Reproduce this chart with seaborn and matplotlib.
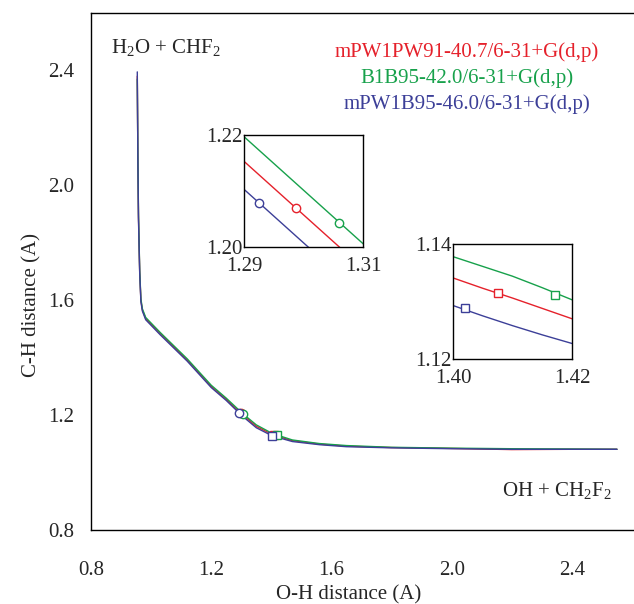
import numpy as np
import pandas as pd
import matplotlib
matplotlib.use('Agg')
import matplotlib.pyplot as plt
from matplotlib.ticker import MultipleLocator, FixedLocator, FormatStrFormatter
import seaborn as sns

sns.set_style('white')
plt.rcParams['font.family'] = ['Liberation Serif', 'DejaVu Serif']
plt.rcParams['mathtext.fontset'] = 'custom'
plt.rcParams['mathtext.rm'] = 'Liberation Serif'
plt.rcParams['mathtext.default'] = 'regular'

# O-H distance grid shared by the three IRC paths
oh_dist = [0.954, 0.956, 0.958, 0.962, 0.966, 0.971, 0.982, 1.03, 1.12, 1.20,
           1.25, 1.29, 1.31, 1.35, 1.40, 1.405, 1.41, 1.415, 1.42, 1.47, 1.56, 1.65,
           1.80, 2.00, 2.20, 2.40, 2.55]

# C-H distance along each path
ch_mpw1pw91 = [2.38, 2.09, 1.89, 1.700, 1.600, 1.566, 1.536, 1.484, 1.392, 1.300,
               1.255, 1.2153, 1.1962, 1.161, 1.1341, 1.1323, 1.1306, 1.1288, 1.1270,
               1.111, 1.099, 1.092, 1.087, 1.084, 1.080, 1.081, 1.081]
ch_b1b95 = [2.37, 2.10, 1.90, 1.705, 1.605, 1.570, 1.540, 1.488, 1.396, 1.304,
            1.259, 1.2197, 1.2006, 1.166, 1.1378, 1.1361, 1.1344, 1.1324, 1.1303,
            1.1135, 1.101, 1.094, 1.088, 1.085, 1.083, 1.082, 1.081]
ch_mpw1b95 = [2.395, 2.08, 1.88, 1.695, 1.595, 1.562, 1.532, 1.480, 1.388, 1.296,
              1.251, 1.2103, 1.1912, 1.156, 1.1293, 1.1275, 1.1258, 1.1242, 1.1227,
              1.108, 1.097, 1.090, 1.086, 1.083, 1.081, 1.081, 1.081]

labels = ['mPW1PW91-40.7/6-31+G(d,p)', 'B1B95-42.0/6-31+G(d,p)', 'mPW1B95-46.0/6-31+G(d,p)']
colors = ['#e5212b', '#17a14b', '#3c3f98']
curves = [ch_mpw1pw91, ch_b1b95, ch_mpw1b95]

# circle markers (saddle point) and square markers
circ_x = [1.2987, 1.306, 1.2925]
circ_y = [1.2069, 1.2042, 1.2079]
sq_x = [1.4075, 1.4172, 1.4021]
sq_y = [1.1315, 1.1311, 1.1289]

fig = plt.figure(figsize=(6.34, 6.04), dpi=100)
ax = fig.add_axes([91 / 634, 1 - 530 / 604, 1 - 91 / 634, (530 - 13) / 604])
ax1 = fig.add_axes([244 / 634, 1 - 247 / 604, 119 / 634, 112 / 604])
ax2 = fig.add_axes([453 / 634, 1 - 359 / 604, 119 / 634, 115 / 604])


def draw(a, lw, ms):
    for yv, c in zip(curves, colors):
        sns.lineplot(x=oh_dist, y=yv, ax=a, color=c, lw=lw, sort=False,
                     estimator=None, zorder=2)
    for i, c in enumerate(colors):
        a.plot(circ_x[i], circ_y[i], 'o', ms=ms, mfc='white', mec=c, mew=1.0, zorder=3)
        a.plot(sq_x[i], sq_y[i], 's', ms=ms, mfc='white', mec=c, mew=1.0, zorder=3)


draw(ax, 1.0, 6)
draw(ax1, 1.0, 6)
draw(ax2, 1.0, 6)

ax.set_xlim(0.8, 0.8 + (634 - 92) / 300)
ax.set_ylim(0.8, 2.6)
ax.xaxis.set_major_locator(FixedLocator([0.8, 1.2, 1.6, 2.0, 2.4]))
ax.xaxis.set_minor_locator(MultipleLocator(0.1))
ax.yaxis.set_major_locator(FixedLocator([0.8, 1.2, 1.6, 2.0, 2.4]))
ax.yaxis.set_minor_locator(MultipleLocator(0.1))
ax.xaxis.set_major_formatter(FormatStrFormatter('%.1f'))
ax.yaxis.set_major_formatter(FormatStrFormatter('%.1f'))
ax.tick_params(axis='both', which='both', direction='in', top=False, right=False,
               labelsize=15, color='black', width=1.0)
ax.tick_params(axis='both', which='major', length=6)
ax.tick_params(axis='both', which='minor', length=4)
ax.tick_params(axis='x', pad=22)
ax.tick_params(axis='y', pad=12)
ax.spines['right'].set_visible(False)
for s in ['left', 'bottom', 'top']:
    ax.spines[s].set_color('black')
    ax.spines[s].set_linewidth(1.0)
ax.set_xlabel('O-H distance (A)', fontsize=15, va='center')
ax.set_ylabel('C-H distance (A)', fontsize=15, va='center')
ax.xaxis.set_label_coords(0.475, -0.126)
ax.yaxis.set_label_coords(-0.109, 0.435)

ax.text(0.867, 2.48, 'H$_2$O + CHF$_2$', fontsize=15, ha='left', va='center')
ax.text(2.533, 0.939, 'OH + CH$_2$F$_2$', fontsize=15, ha='right', va='center')
for lab, c, yy in zip(labels, colors, [2.463, 2.372, 2.282]):
    ax.text(2.05, yy, lab, color=c, fontsize=15, ha='center', va='center')

for a, xl, yl, xt, yt in [(ax1, (1.29, 1.31), (1.20, 1.22), [1.29, 1.31], [1.20, 1.22]),
                          (ax2, (1.40, 1.42), (1.12, 1.14), [1.40, 1.42], [1.12, 1.14])]:
    a.set_xlim(*xl)
    a.set_ylim(*yl)
    a.xaxis.set_major_locator(FixedLocator(xt))
    a.yaxis.set_major_locator(FixedLocator(yt))
    a.xaxis.set_minor_locator(MultipleLocator(0.002))
    a.yaxis.set_minor_locator(MultipleLocator(0.002))
    a.xaxis.set_major_formatter(FormatStrFormatter('%.2f'))
    a.yaxis.set_major_formatter(FormatStrFormatter('%.2f'))
    a.tick_params(axis='both', which='both', direction='in', top=False, right=False,
                  labelsize=15, length=4, width=0.8, color='black')
    a.tick_params(axis='x', pad=7)
    a.tick_params(axis='y', pad=1)
    for s in a.spines.values():
        s.set_color('black')
        s.set_linewidth(1.0)
    a.set_xlabel('')
    a.set_ylabel('')

fig.savefig('out.png', dpi=100)
